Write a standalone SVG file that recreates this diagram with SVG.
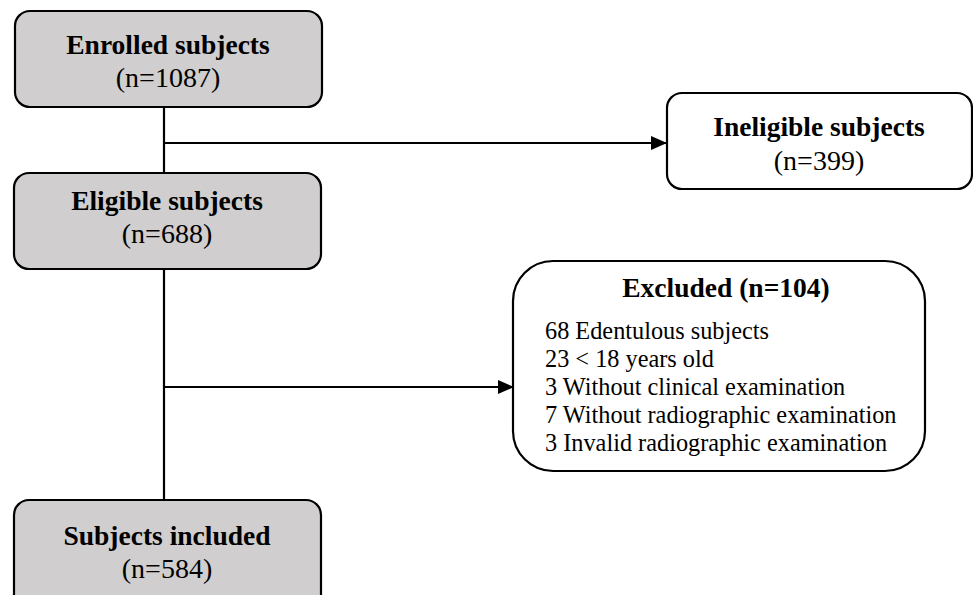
<svg xmlns="http://www.w3.org/2000/svg" width="973" height="595" viewBox="0 0 973 595">
<defs>
<marker id="ah2" markerWidth="16" markerHeight="14" refX="15" refY="7" orient="auto" markerUnits="userSpaceOnUse" viewBox="0 0 16 14">
<path d="M0,0 L16,7 L0,14 z" fill="#000"/>
</marker>
</defs>
<style>
.box{stroke:#000;stroke-width:2.2}
.gray{fill:#d0cece}
.white{fill:#fff}
.t{font-family:"Liberation Serif","Times New Roman",serif;fill:#000}
.b{font-weight:bold;font-size:27.5px}
.r{font-size:28px}
.l{font-size:24.3px}
.c{text-anchor:middle}
.ln{stroke:#000;stroke-width:2.2;fill:none}
</style>
<rect width="973" height="595" fill="#fff"/>
<g id="connectors">
<line class="ln" x1="164" y1="107" x2="164" y2="173"/>
<line class="ln" x1="164" y1="143" x2="666" y2="143" marker-end="url(#ah2)"/>
<line class="ln" x1="164" y1="269" x2="164" y2="500"/>
<line class="ln" x1="164" y1="387" x2="513" y2="387" marker-end="url(#ah2)"/>
</g>
<g id="enrolled">
<rect class="box gray" x="15" y="11" width="307" height="96" rx="15"/>
<text class="t b c" x="168" y="54">Enrolled subjects</text>
<text class="t r c" x="168" y="87">(n=1087)</text>
</g>
<g id="ineligible">
<rect class="box white" x="667" y="93" width="305" height="96" rx="15"/>
<text class="t b c" x="819" y="136">Ineligible subjects</text>
<text class="t r c" x="819" y="170">(n=399)</text>
</g>
<g id="eligible">
<rect class="box gray" x="14" y="173" width="307" height="96" rx="15"/>
<text class="t b c" x="167" y="210">Eligible subjects</text>
<text class="t r c" x="167" y="243">(n=688)</text>
</g>
<g id="excluded">
<rect class="box white" x="513" y="261" width="412" height="210" rx="40"/>
<text class="t b c" x="726" y="297">Excluded (n=104)</text>
<text class="t l" x="545" y="339">68 Edentulous subjects</text>
<text class="t l" x="545" y="367">23 &lt; 18 years old</text>
<text class="t l" x="545" y="395">3 Without clinical examination</text>
<text class="t l" x="545" y="423">7 Without radiographic examination</text>
<text class="t l" x="545" y="451">3 Invalid radiographic examination</text>
</g>
<g id="included">
<rect class="box gray" x="14" y="500" width="307" height="110" rx="15"/>
<text class="t b c" x="167" y="545">Subjects included</text>
<text class="t r c" x="167" y="578">(n=584)</text>
</g>
</svg>
